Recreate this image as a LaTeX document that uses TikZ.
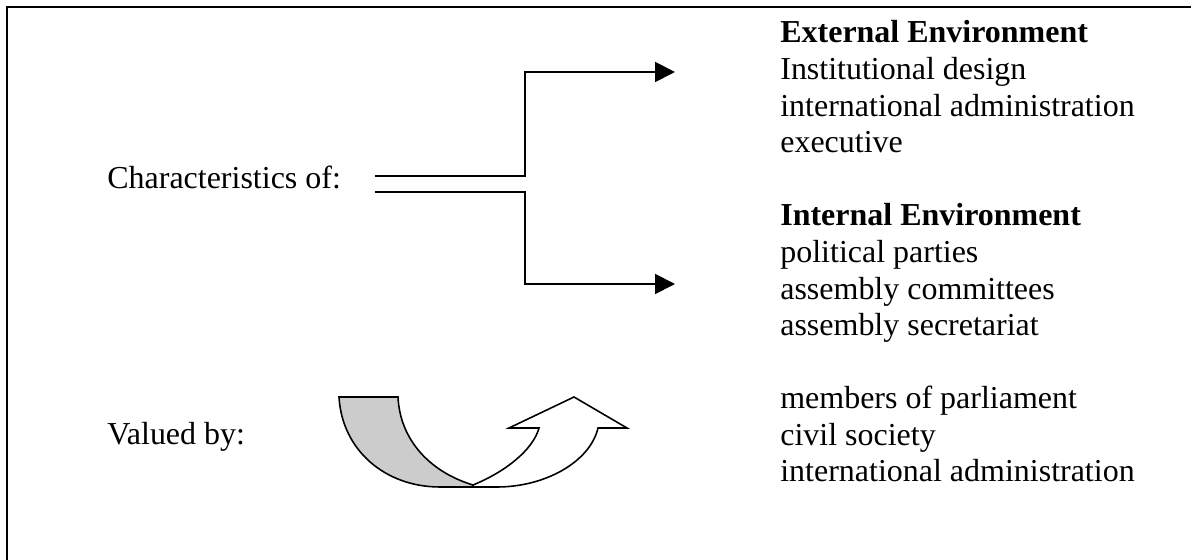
\documentclass[tikz,border=0pt]{standalone}
\usepackage{fontspec}
\setmainfont{Liberation Serif}
\usetikzlibrary{arrows.meta,positioning}
\begin{document}
\begin{tikzpicture}[x=0.02cm,y=-0.02cm,
    txt node/.style={anchor=base west,inner sep=0pt,align=left,font=\fontsize{18.2pt}{21pt}\selectfont},
    link/.style={line width=1.1pt},
    head/.style={-{Triangle[length=0.4cm,width=0.4cm]}},
    uturn/.style={line width=0.9pt,line join=miter}]
  \useasboundingbox (0,0) rectangle (1191,560);
  \draw[line width=1.3pt] (7,560) -- (7,7) -- (1191,7);

  % base anchor sits on the last line
  \node[txt node] (char) at (107,189) {Characteristics of:};
  \node[txt node] (val) at (107,445) {Valued by:};
  \node[txt node] (ext) at (780,153) {\textbf{External Environment}\\Institutional design\\international administration\\executive};
  \node[txt node] (int) at (780,336) {\textbf{Internal Environment}\\political parties\\assembly committees\\assembly secretariat};
  \node[txt node] (who) at (780,482) {members of parliament\\civil society\\international administration};

  \coordinate (a1) at (375,176);
  \coordinate (a2) at (375,192);
  \coordinate (s1) at (525,176);
  \coordinate (s2) at (525,192);
  \coordinate (t1) at (675,72);
  \coordinate (t2) at (675,284);

  \draw[link,head] (a1) -- (s1) |- (t1);
  \draw[link,head] (a2) -- (s2) |- (t2);

  % u-turn arrow
  \draw[uturn,fill=gray!40] (339,397) .. controls (342,450) and (385,487) .. (440,487)
    -- (473,487) -- (473,485) .. controls (430,472) and (400,440) .. (398,397) -- cycle;
  \draw[uturn,fill=white] (473,487) -- (497,487) .. controls (545,487) and (590,462) .. (598,428)
    -- (627,428) -- (574,397) -- (509,428) -- (539,428)
    .. controls (533,450) and (505,472) .. (473,485) -- cycle;
\end{tikzpicture}
\end{document}
